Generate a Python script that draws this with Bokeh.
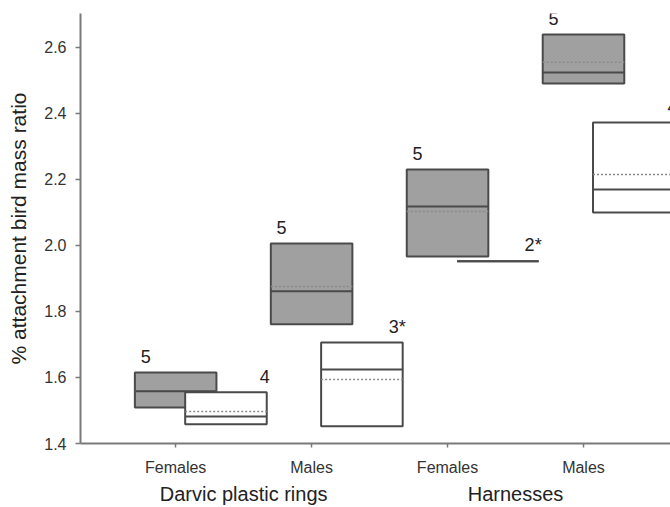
import numpy as np
from bokeh.plotting import figure
from bokeh.models import Range1d, FixedTicker, LinearAxis, ColumnDataSource
from bokeh.core.properties import value
from bokeh.embed import file_html
from bokeh.resources import INLINE

# ---- data -------------------------------------------------------------
categories = ["Females", "Males", "Females", "Males"]
groups = ["Darvic plastic rings", "Harnesses"]
cat_pos = [1, 2, 3, 4]
group_of_cat = [0, 0, 1, 1]

# shaded (grey) boxes
shaded_q1 = [1.509, 1.761, 1.967, 2.491]
shaded_median = [1.558, 1.861, 2.118, 2.524]
shaded_mean = [1.560, 1.876, 2.103, 2.555]
shaded_q3 = [1.615, 2.006, 2.230, 2.639]
shaded_n = ["5", "5", "5", "5"]

# open (white) boxes
open_q1 = [1.458, 1.452, 1.952, 2.100]
open_median = [1.482, 1.624, 1.952, 2.170]
open_mean = [1.497, 1.594, 1.952, 2.215]
open_q3 = [1.555, 1.706, 1.952, 2.373]
open_n = ["4", "3*", "2*", "4"]

y_ticks = [1.4, 1.6, 1.8, 2.0, 2.2, 2.4, 2.6]
y_title = "% attachment bird mass ratio"

# ---- styles -----------------------------------------------------------
FONT = "Liberation Sans"
BOX_W = 0.6
OPEN_SHIFT = 0.37
AXIS_COL = "#7a7a7a"
EDGE_COL = "#4a4a4a"
GREY_FILL = "#a0a0a0"
MEAN_COL = "#8a8a8a"
TEXT_COL = "#222222"

pos = np.array(cat_pos, dtype=float)

p = figure(width=670, height=507,
           x_range=Range1d(0.3, 4.64), y_range=Range1d(1.4, 2.703),
           output_backend="svg", toolbar_location=None,
           min_border_left=80, min_border_right=0,
           min_border_top=13, min_border_bottom=64)
p.outline_line_color = None
p.grid.visible = False
p.background_fill_color = "white"
p.border_fill_color = "white"


def draw_boxes(centers, q1, med, mean, q3, fill):
    src = ColumnDataSource(dict(
        left=centers - BOX_W / 2, right=centers + BOX_W / 2,
        q1=q1, q3=q3, med=med, mean=mean))
    p.quad(left="left", right="right", bottom="q1", top="q3", source=src,
           fill_color=fill, line_color=EDGE_COL, line_width=2)
    p.segment(x0="left", x1="right", y0="mean", y1="mean", source=src,
              line_color=MEAN_COL, line_width=1.5, line_dash="2 2")
    p.segment(x0="left", x1="right", y0="med", y1="med", source=src,
              line_color=EDGE_COL, line_width=2)


draw_boxes(pos, shaded_q1, shaded_median, shaded_mean, shaded_q3, GREY_FILL)
draw_boxes(pos + OPEN_SHIFT, open_q1, open_median, open_mean, open_q3, "white")

# sample size labels
p.text(x=pos, y=shaded_q3, text=shaded_n, x_offset=-30, y_offset=-16,
       text_align="center", text_baseline="middle",
       text_font=value(FONT), text_font_size="18px", text_color=TEXT_COL)
p.text(x=pos + OPEN_SHIFT + BOX_W / 2, y=open_q3, text=open_n, x_offset=3, y_offset=-16,
       text_align="right", text_baseline="middle",
       text_font=value(FONT), text_font_size="18px", text_color=TEXT_COL)


def style_common(ax):
    ax.minor_tick_line_color = None
    ax.major_tick_in = 0
    ax.axis_line_color = AXIS_COL
    ax.axis_line_width = 2
    ax.major_tick_line_color = AXIS_COL
    ax.major_tick_line_width = 1.5
    ax.major_label_text_font = FONT
    ax.major_label_text_color = "#333333"


xa = p.xaxis[0]
style_common(xa)
xa.ticker = FixedTicker(ticks=cat_pos)
xa.major_label_overrides = {c: lab for c, lab in zip(cat_pos, categories)}
xa.major_tick_out = 4
xa.major_label_standoff = 11
xa.major_label_text_font_size = "16px"

# group labels as a second, line-less axis below the category axis
group_centers = [float(np.mean([c for c, g in zip(cat_pos, group_of_cat) if g == gi]))
                 for gi in range(len(groups))]
ga = LinearAxis(ticker=FixedTicker(ticks=group_centers),
                major_label_overrides={c: g for c, g in zip(group_centers, groups)})
ga.axis_line_color = None
ga.major_tick_line_color = None
ga.minor_tick_line_color = None
ga.major_tick_in = 0
ga.major_tick_out = 0
ga.major_label_standoff = 4
ga.major_label_text_font = FONT
ga.major_label_text_font_size = "20px"
ga.major_label_text_color = TEXT_COL
p.add_layout(ga, "below")

ya = p.yaxis[0]
style_common(ya)
ya.ticker = FixedTicker(ticks=y_ticks)
ya.major_label_overrides = {t: f"{t:.1f}" for t in y_ticks}
ya.major_tick_out = 5
ya.major_label_standoff = 9
ya.major_label_text_font_size = "16px"
ya.axis_label = y_title
ya.axis_label_text_font = FONT
ya.axis_label_text_font_size = "21px"
ya.axis_label_text_font_style = "normal"
ya.axis_label_text_color = TEXT_COL
ya.axis_label_standoff = 11

open("out.html", "w").write(file_html(p, INLINE))
